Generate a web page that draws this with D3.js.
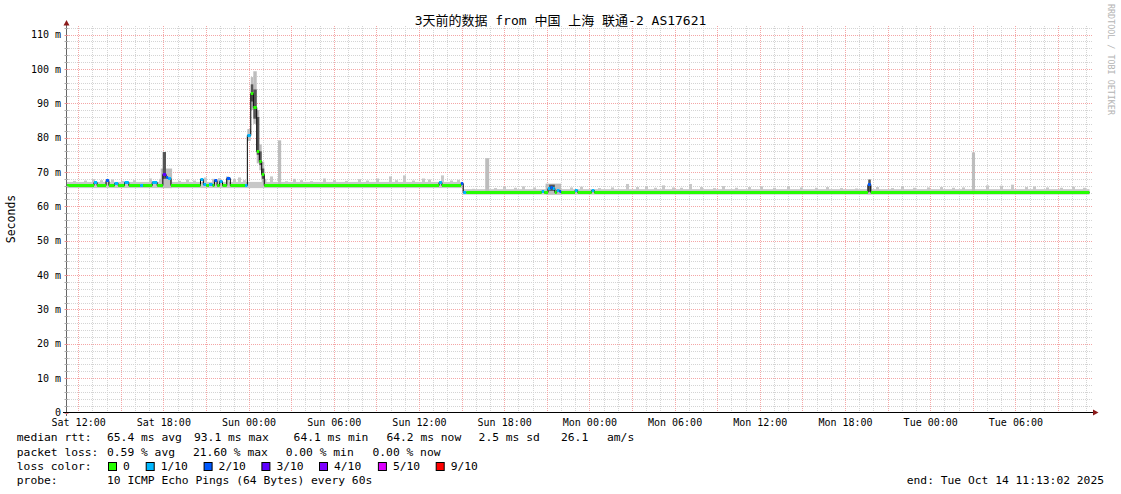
<html>
<head>
<meta charset="utf-8">
<script src="https://d3js.org/d3.v7.min.js"></script>
<style>
body { margin: 0; background: #fff; }
text { font-family: "DejaVu Sans Mono", "Noto Sans CJK SC", monospace; fill: #000; }
</style>
</head>
<body>
<svg width="1121" height="494"></svg>
<script>
var title = "3天前的数据 from 中国 上海 联通-2 AS17621";
var startTime = new Date(2025, 9, 11, 11, 13, 2);
var endTime = new Date(2025, 9, 14, 11, 13, 2);

// median rtt: [hours since start, ms, lost pings of 10]
var medianPoints = [
	[0, 66.2, 0], [1.9, 67.1, 1], [2.12, 66.2, 0], [2.75, 67.6, 2], [2.95, 66.2, 0],
	[3.35, 66.9, 1], [3.6, 66.2, 0], [4.05, 67.0, 1], [4.35, 66.2, 0], [5.15, 66.3, 1],
	[5.35, 66.2, 0], [6.0, 67.1, 1], [6.35, 66.2, 0], [6.75, 69.4, 3], [6.98, 68.6, 2],
	[7.12, 68.2, 1], [7.32, 66.2, 0], [9.4, 67.9, 1], [9.6, 66.6, 1], [9.8, 66.2, 0],
	[10.0, 66.6, 1], [10.25, 66.2, 0], [10.38, 67.8, 2], [10.57, 66.2, 0], [10.75, 67.5, 1],
	[10.95, 66.2, 0], [11.25, 68.2, 2], [11.5, 66.2, 0], [12.54, 66.2, 1], [12.70, 80.7, 1],
	[12.94, 93.1, 0], [13.12, 88.8, 0], [13.36, 76.2, 0], [13.54, 73.3, 0], [13.71, 69.3, 0],
	[13.89, 66.2, 0], [26.2, 67.2, 1], [26.4, 66.2, 0], [27.75, 66.7, 2], [27.9, 64.2, 1],
	[28.12, 64.2, 0], [33.43, 64.6, 1], [33.6, 64.2, 0], [33.87, 65.2, 1], [34.05, 65.6, 2],
	[34.2, 65.2, 1], [34.35, 64.2, 0], [34.49, 64.8, 1], [34.68, 64.6, 2], [34.8, 64.2, 0],
	[35.77, 64.8, 1], [35.96, 64.2, 0], [36.95, 64.8, 1], [37.13, 64.2, 0], [56.4, 66.4, 2],
	[56.6, 64.2, 0], [72, 64.2, 0]
];

// smoke: base band [from h, to h, low ms, high ms]
var smokeBase = [[0, 27.85, 65.3, 67.1], [27.85, 72, 63.4, 65.0]];
// small smoke bumps [h, high ms]
var smokeBumps = [
	[0.42,67.4],[1.2,67.5],[1.76,67.9],[2.32,67.6],[3.1,67.8],[3.8,67.4],[4.65,67.6],[5.77,68.1],[6.5,68.0],
	[7.8,67.4],[8.4,67.8],[8.9,67.5],[9.65,68.4],[10.2,68.0],[10.6,68.2],[11.2,68.7],[11.7,68.0],[12.05,68.4],[12.4,67.6],
	[14.3,68.7],[15.35,67.3],[15.9,68.0],[16.4,67.6],[17.1,67.3],[18.0,68.1],[18.7,67.6],[19.6,67.4],[20.5,67.9],
	[21.05,67.5],[21.75,68.1],[22.65,68.7],[23.1,67.6],[23.65,69.0],[24.3,67.5],[25.0,68.1],[25.4,67.8],[26.35,69.0],
	[27.0,67.5],[27.45,67.7],
	[28.5,65.1],[30.1,65.3],[30.7,65.8],[31.5,65.4],[32.05,65.8],[32.8,65.5],[35.4,65.5],[36.1,65.7],[37.4,65.3],
	[38.3,65.5],[39.35,66.5],[40.05,65.6],[40.7,65.9],[41.3,65.4],[41.9,66.1],[42.6,65.5],[43.15,65.4],[43.8,66.5],
	[44.6,65.6],[45.5,65.3],[46.1,65.9],[47.05,65.4],[47.95,65.6],[48.8,65.8],[49.7,65.4],[50.7,65.9],[51.6,65.5],
	[52.7,65.4],[53.45,65.6],[54.45,65.3],[55.5,65.2],[57.0,65.6],[58.0,65.3],[58.75,65.9],[59.6,65.4],[60.55,65.5],
	[61.5,65.6],[62.3,65.4],[63.05,65.5],[64.7,66.1],[65.7,66.0],[66.5,66.3],[67.45,65.6],[68.0,65.8],[68.95,65.5],
	[69.9,65.4],[70.8,65.7],[71.55,65.4]
];
// wide smoke spread [h, duration h, low ms, high ms]
var smokeOuter = [
	[6.6, 0.8, 65.3, 71.0], [12.70, 0.24, 79.0, 82.5], [12.94, 0.18, 88.0, 97.6], [13.12, 0.24, 84.0, 99.3],
	[13.36, 0.18, 72.5, 88.0], [13.54, 0.17, 70.5, 78.0], [13.71, 0.18, 67.0, 73.0], [13.89, 0.15, 65.5, 68.0],
	[14.86, 0.22, 65.5, 79.2], [29.45, 0.28, 63.6, 74.0], [33.7, 1.1, 63.4, 66.6], [56.35, 0.3, 63.5, 66.0],
	[63.72, 0.22, 63.6, 75.7]
];
// dense smoke core
var smokeInner = [
	[6.74, 0.23, 68.0, 75.8], [12.94, 0.18, 90.5, 95.5], [13.12, 0.24, 85.5, 94.0], [13.36, 0.18, 75.0, 86.0],
	[13.54, 0.17, 72.0, 76.0], [13.71, 0.18, 68.0, 71.0], [33.95, 0.4, 64.5, 66.3], [56.42, 0.18, 64.2, 67.8]
];

var lossLabels = ["0", "1/10", "2/10", "3/10", "4/10", "5/10", "9/10"];
var lossColors = ["#26ff00", "#00b8ff", "#0059ff", "#5e00ff", "#7e00ff", "#dd00ff", "#ff0000"];
var yMajor = d3.range(0, 111, 10);
var yMinor = d3.range(0, 113, 2);

var rttRow = [["median rtt:", 16.8], ["65.4 ms avg", 107], ["93.1 ms max", 194], ["64.1 ms min", 293.6], ["64.2 ms now", 386.4], ["2.5 ms sd", 478.6], ["26.1", 561], ["am/s", 607]];
var lossRow = [["packet loss:", 16.8], ["0.59 % avg", 107], ["21.60 % max", 193], ["0.00 % min", 285.7], ["0.00 % now", 372.5]];
var swatchX = [108, 145.7, 203.6, 261.4, 319, 377.9, 435.7];
var probeText = "10 ICMP Echo Pings (64 Bytes) every 60s";
var endText = "end: Tue Oct 14 11:13:02 2025";

var svg = d3.select("svg");
var x = d3.scaleTime().domain([startTime, endTime]).range([67, 1089.5]);
var y = d3.scaleLinear().domain([0, 112.3]).range([412.5, 26.6]);
var lossColor = d3.scaleThreshold().domain([1, 2, 3, 4, 5, 6]).range(lossColors);
var t = function(h) { return new Date(startTime.getTime() + h * 3600e3); };
var px = function(v) { return Math.round(v) + 0.5; };

// grid
var grid = svg.append("g").attr("stroke-dasharray", "1,1");
var hMinor = d3.timeHour.every(1).range(startTime, endTime);
var hMajor = d3.timeHour.every(3).range(startTime, endTime);
grid.selectAll(".vmin").data(hMinor).enter().append("line")
	.attr("x1", d => px(x(d))).attr("x2", d => px(x(d))).attr("y1", 26).attr("y2", 412)
	.attr("stroke", "#d4d4d4");
grid.selectAll(".hmin").data(yMinor.filter(v => v > 0)).enter().append("line")
	.attr("x1", 67).attr("x2", 1093).attr("y1", d => px(y(d))).attr("y2", d => px(y(d)))
	.attr("stroke", "#d4d4d4");
grid.selectAll(".vmaj").data(hMajor).enter().append("line")
	.attr("x1", d => px(x(d))).attr("x2", d => px(x(d))).attr("y1", 26).attr("y2", 412)
	.attr("stroke", "#f4a6a6");
grid.selectAll(".hmaj").data(yMajor.filter(v => v > 0)).enter().append("line")
	.attr("x1", 67).attr("x2", 1093).attr("y1", d => px(y(d))).attr("y2", d => px(y(d)))
	.attr("stroke", "#f4a6a6");

// smoke
var smoke = svg.append("g");
smoke.selectAll(".base").data(smokeBase).enter().append("rect")
	.attr("x", d => x(t(d[0]))).attr("width", d => x(t(d[1])) - x(t(d[0])))
	.attr("y", d => y(d[3])).attr("height", d => y(d[2]) - y(d[3])).attr("fill", "#c8c8c8");
smoke.selectAll(".bump").data(smokeBumps).enter().append("rect")
	.attr("x", d => Math.round(x(t(d[0])))).attr("width", 3)
	.attr("y", d => y(d[1])).attr("height", d => y(d[0] < 27.85 ? 66.2 : 64.2) - y(d[1])).attr("fill", "#c8c8c8");
smoke.selectAll(".outer").data(smokeOuter).enter().append("rect")
	.attr("x", d => x(t(d[0]))).attr("width", d => x(t(d[0] + d[1])) - x(t(d[0])))
	.attr("y", d => y(d[3])).attr("height", d => y(d[2]) - y(d[3])).attr("fill", "#bdbdbd");
smoke.selectAll(".inner").data(smokeInner).enter().append("rect")
	.attr("x", d => x(t(d[0]))).attr("width", d => x(t(d[0] + d[1])) - x(t(d[0])))
	.attr("y", d => y(d[3])).attr("height", d => y(d[2]) - y(d[3])).attr("fill", "#555");

// median line
var line = d3.line().x(d => x(t(d[0]))).y(d => px(y(d[1]))).curve(d3.curveStepAfter);
svg.append("path").datum(medianPoints).attr("d", line)
	.attr("fill", "none").attr("stroke", "#000").attr("stroke-width", 1);
svg.append("g").selectAll("line").data(medianPoints.slice(0, -1)).enter().append("line")
	.attr("x1", (d, i) => x(t(d[0]))).attr("x2", (d, i) => x(t(medianPoints[i + 1][0])))
	.attr("y1", d => px(y(d[1]))).attr("y2", d => px(y(d[1])))
	.attr("stroke", d => lossColor(d[2])).attr("stroke-width", 3);

// axes
svg.append("line").attr("x1", 66.5).attr("x2", 66.5).attr("y1", 416).attr("y2", 24).attr("stroke", "#666");
svg.append("line").attr("x1", 63).attr("x2", 1094).attr("y1", 412.5).attr("y2", 412.5).attr("stroke", "#000");
svg.append("path").attr("d", "M63.5,25.5 L66.5,20 L69.5,25.5 Z").attr("fill", "#8b1a1a");
svg.append("path").attr("d", "M1093,409.5 L1098.5,412.5 L1093,415.5 Z").attr("fill", "#8b1a1a");
svg.append("g").selectAll("line").data(yMinor).enter().append("line")
	.attr("x1", 64.5).attr("x2", 68.5).attr("y1", d => px(y(d))).attr("y2", d => px(y(d)))
	.attr("stroke", d => d % 10 == 0 ? "#e89090" : "#aaa");

var yAxis = svg.append("g").attr("transform", "translate(67,0)")
	.call(d3.axisLeft(y).tickValues(yMajor).tickSize(0).tickPadding(6).tickFormat(d => d == 0 ? "0" : d + " m"));
yAxis.select(".domain").remove();
yAxis.selectAll("text").style("font-size", "10px").attr("fill", "#000");

var xAxis = svg.append("g").attr("transform", "translate(0,412.5)")
	.call(d3.axisBottom(x).ticks(d3.timeHour.every(6)).tickSize(0).tickPadding(6).tickFormat(d3.timeFormat("%a %H:%M")));
xAxis.select(".domain").remove();
xAxis.selectAll("text").style("font-size", "10px").attr("fill", "#000");

// titles
svg.append("text").attr("x", 560.5).attr("y", 25).attr("text-anchor", "middle").style("font-size", "13px").text(title);
svg.append("text").attr("transform", "translate(15,219) rotate(-90)").attr("text-anchor", "middle").style("font-size", "11.5px").text("Seconds");
svg.append("text").attr("transform", "translate(1108,4) rotate(90)").style("font-size", "8.4px").style("fill", "#b4b4b4").text("RRDTOOL / TOBI OETIKER");

// legend
var legend = svg.append("g").style("font-size", "11.3px").style("white-space", "pre");
rttRow.forEach(r => legend.append("text").attr("x", r[1]).attr("y", 441).text(r[0]));
lossRow.forEach(r => legend.append("text").attr("x", r[1]).attr("y", 456).text(r[0]));
legend.append("text").attr("x", 16.8).attr("y", 470).text("loss color:");
lossLabels.forEach((l, i) => {
	legend.append("rect").attr("x", swatchX[i] + 0.5).attr("y", 462.5).attr("width", 8).attr("height", 8)
		.attr("fill", lossColors[i]).attr("stroke", "#000");
	legend.append("text").attr("x", swatchX[i] + 15).attr("y", 470).text(l);
});
legend.append("text").attr("x", 16.8).attr("y", 484).text("probe:");
legend.append("text").attr("x", 107).attr("y", 484).text(probeText);
legend.append("text").attr("x", 1104).attr("y", 484).attr("text-anchor", "end").text(endText);
</script>
</body>
</html>
